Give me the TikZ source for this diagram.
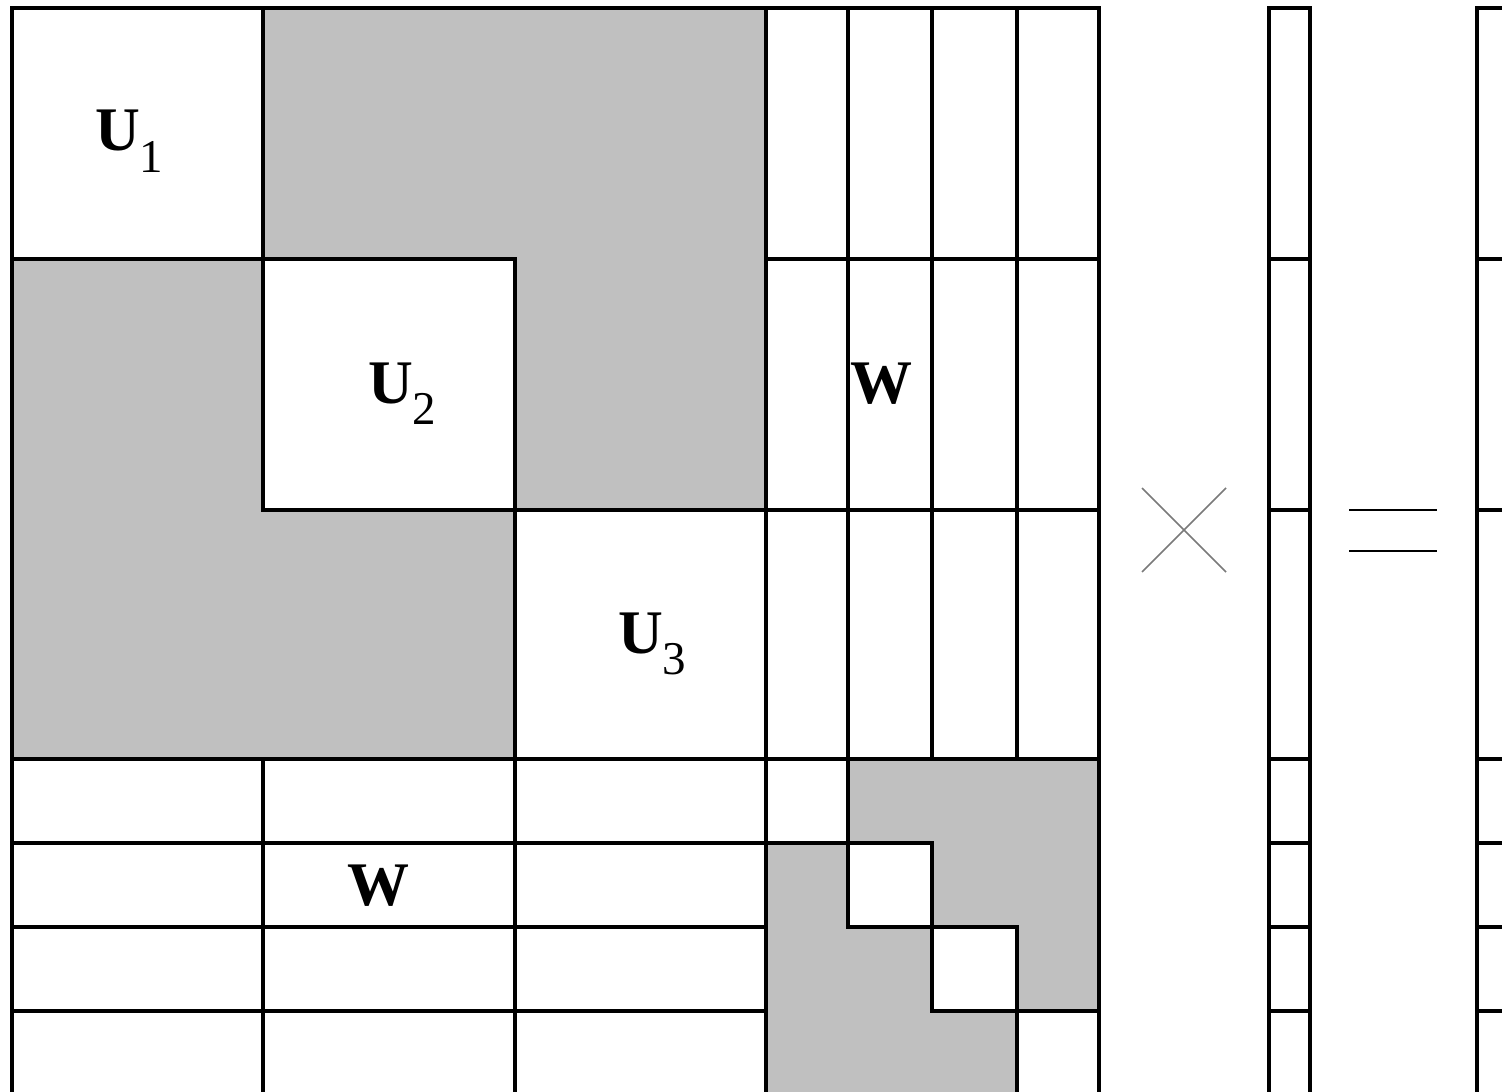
\documentclass[tikz,border=0pt]{standalone}
\usepackage{fontspec}
\setmainfont{Liberation Serif}
\definecolor{blockgray}{HTML}{C0C0C0}
\definecolor{crossgray}{HTML}{7A7A7A}
\begin{document}
\begin{tikzpicture}[x=1pt,y=-1pt,
  gridline/.style={draw=black,line width=3.8pt},
  blanksq/.style={fill=white,draw=black,line width=3.8pt},
  lbl/.style={anchor=base west,inner sep=0pt,outer sep=0pt,font=\fontsize{62}{62}\selectfont\bfseries},
  opline/.style={line width=1.6pt,draw=crossgray},
  eqline/.style={line width=2.6pt,draw=black}]
\useasboundingbox (0,0) rectangle (1502,1092);
% upper-left block
\fill[blockgray] (12,8) rectangle (766,759);
\draw[blanksq] (12,8) rectangle (263,259);
\draw[blanksq] (263,259) rectangle (515,510);
\draw[blanksq] (515,510) rectangle (766,759);
% lower-right block
\fill[blockgray] (766,759) rectangle (1099,1100);
\draw[blanksq] (766,759) rectangle (848,843);
\draw[blanksq] (848,843) rectangle (932,927);
\draw[blanksq] (932,927) rectangle (1017,1011);
\draw[blanksq] (1017,1011) rectangle (1099,1100);
% upper-right grid
\foreach \xx in {848,932,1017} \draw[gridline] (\xx,8) -- (\xx,759);
\foreach \yy in {259,510} \draw[gridline] (766,\yy) -- (1099,\yy);
% lower-left grid
\foreach \xx in {263,515} \draw[gridline] (\xx,759) -- (\xx,1100);
\foreach \yy in {843,927,1011} \draw[gridline] (12,\yy) -- (766,\yy);
% block separators and outline
\draw[gridline] (766,8) -- (766,1100);
\draw[gridline] (12,759) -- (1099,759);
\draw[gridline] (12,1100) -- (12,8) -- (1099,8) -- (1099,1100);
% labels
\node[lbl] (u1) at (95,150) {U\raisebox{-22pt}{\mdseries\fontsize{47}{47}\selectfont 1}};
\node[lbl] (u2) at (368,403) {U\raisebox{-21pt}{\mdseries\fontsize{47}{47}\selectfont 2}};
\node[lbl] (u3) at (618,653) {U\raisebox{-21pt}{\mdseries\fontsize{47}{47}\selectfont 3}};
\node[lbl] (w1) at (850,403) {W};
\node[lbl] (w2) at (347,905) {W};
% times sign
\coordinate (ta) at (1142,488);
\coordinate (tb) at (1226,572);
\coordinate (tc) at (1142,572);
\coordinate (td) at (1226,488);
\draw[opline] (ta) -- (tb);
\draw[opline] (tc) -- (td);
% vector
\draw[gridline] (1269,1100) -- (1269,8) -- (1310,8) -- (1310,1100);
\foreach \yy in {259,510,759,843,927,1011} \draw[gridline] (1269,\yy) -- (1310,\yy);
% equals sign
\coordinate (ea) at (1349,510);
\coordinate (eb) at (1437,510);
\coordinate (ec) at (1349,551);
\coordinate (ed) at (1437,551);
\draw[eqline] (ea) -- (eb);
\draw[eqline] (ec) -- (ed);
% result vector
\draw[gridline] (1477,1100) -- (1477,8) -- (1520,8);
\foreach \yy in {259,510,759,843,927,1011} \draw[gridline] (1477,\yy) -- (1520,\yy);
\end{tikzpicture}
\end{document}
